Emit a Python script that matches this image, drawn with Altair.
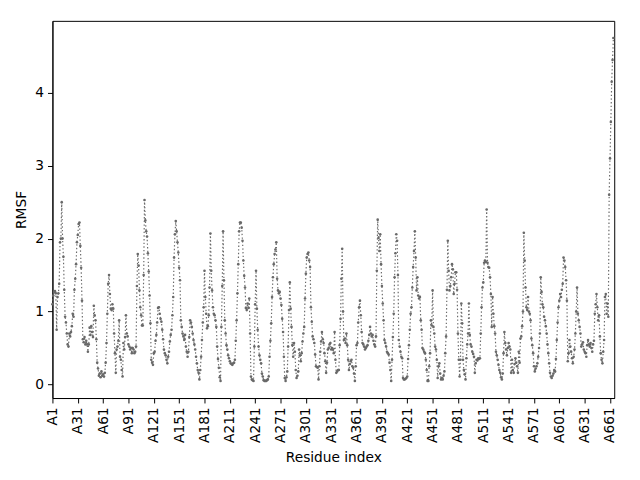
import altair as alt
import pandas as pd

# RMSF values per residue, split in segments
rmsf_a = [1.10, 1.22, 1.27, 1.28, 1.25, 0.75, 1.20, 1.25, 1.38, 1.95, 2.00, 2.50,
          2.00, 1.75, 1.30, 0.93,
          0.85, 0.70, 0.55, 0.52, 0.70, 0.66, 0.72, 0.80, 0.97, 0.93, 1.30, 1.45, 1.65, 1.95, 2.05, 2.20, 2.22,
          1.90, 1.60, 1.15, 0.62, 0.58, 0.65, 0.55, 0.60, 0.55, 0.45, 0.55, 0.78, 0.68, 0.80, 0.72, 0.65,
          1.08, 0.95, 0.88, 0.62, 0.30, 0.22, 0.12, 0.15, 0.10, 0.18, 0.12, 0.14, 0.11, 0.16,
          0.30, 0.57, 0.97, 1.38, 1.50, 1.24, 1.04, 1.02, 1.10, 1.04, 0.70, 0.43, 0.16, 0.48, 0.52, 0.60,
          0.88, 0.38, 0.34, 0.20, 0.11, 0.57, 0.48, 0.65, 0.95, 0.70, 0.66, 0.55, 0.52, 0.48, 0.50, 0.43,
          0.50, 0.48, 0.43, 0.45, 0.52, 1.35, 1.79, 1.63, 1.29, 1.06, 0.95, 0.81, 0.81, 1.50, 2.53]

rmsf_b = [2.25, 2.10, 2.03, 1.80, 1.55, 1.22, 0.84, 0.34, 0.30, 0.27, 0.43, 0.45, 0.60, 0.68, 0.85,
          1.05, 1.06, 0.97, 0.90, 0.86, 0.75, 0.62, 0.48, 0.43, 0.40, 0.34, 0.29, 0.38, 0.45, 0.59,
          0.68, 0.75, 0.95, 1.20, 1.74, 2.06, 2.24, 2.10, 1.95, 1.81, 1.60, 1.43, 0.88, 0.79, 0.70,
          0.66, 0.61, 0.68, 0.52, 0.45, 0.38, 0.45, 0.65, 0.88, 0.85, 0.79, 0.70, 0.61, 0.55, 0.48,
          0.38, 0.29, 0.20, 0.16, 0.07, 0.20, 0.38, 0.61, 0.85, 1.06, 1.56, 1.20, 0.97, 0.77, 0.80,
          0.95, 1.33, 2.07, 1.56, 1.29, 1.06, 0.97, 0.95, 0.88, 0.79, 0.52, 0.35, 0.23, 0.10, 0.05,
          0.79, 1.35, 2.10, 1.43, 0.88, 0.70, 0.54, 0.48, 0.40, 0.36, 0.32, 0.29, 0.28, 0.27, 0.29,
          0.30, 0.34, 0.60, 0.88, 1.25, 1.65, 2.10, 2.22]

rmsf_c = [2.22, 2.15, 1.97, 1.70, 1.49, 1.33, 1.05, 1.02, 1.11, 1.05, 1.18, 0.70, 0.11, 0.07, 0.06,
          0.05, 0.52, 1.10, 1.56, 1.04, 0.75, 0.52, 0.40, 0.34, 0.29, 0.15, 0.11, 0.06, 0.05, 0.05,
          0.05, 0.06, 0.07, 0.11, 0.38, 0.60, 0.84, 1.20, 1.47, 1.65, 1.79, 1.85, 1.95, 1.45, 1.29,
          1.25, 1.27, 1.18, 1.09, 0.90, 0.72, 0.38, 0.09, 0.05, 0.10, 0.18, 0.52, 1.02, 1.40, 1.04,
          0.79, 0.54, 0.38, 0.57, 0.45, 0.20, 0.09, 0.12, 0.18, 0.48, 0.40, 0.32, 0.43, 0.59, 0.70,
          0.79, 1.18, 1.52, 1.74, 1.79, 1.81, 1.70, 1.61, 1.06, 0.86, 0.66, 0.62, 0.57, 0.41, 0.25,
          0.24, 0.23, 0.07, 0.25, 0.45, 0.59, 0.72, 0.62, 0.57, 0.43, 0.32, 0.16, 0.30, 0.48, 0.50,
          0.55, 0.57, 0.48]

rmsf_d = [0.50, 0.48, 0.43, 0.72, 0.34, 0.16, 0.18, 0.20, 0.20, 0.54, 0.90, 1.45, 1.86, 1.00, 0.61,
          0.63, 0.57, 0.70, 0.54, 0.34, 0.20, 0.28, 0.32, 0.34, 0.25, 0.23, 0.15, 0.05, 0.25, 0.54,
          0.57, 0.85, 1.06, 1.15, 0.95, 0.72, 0.57, 0.55, 0.52, 0.48, 0.50, 0.52, 0.54, 0.60, 0.68,
          0.79, 0.70, 0.66, 0.68, 0.60, 0.55, 0.52, 0.66, 1.56, 2.26, 2.01, 1.83, 2.06, 1.65, 1.35,
          1.11, 0.88, 0.61, 0.57, 0.52, 0.45, 0.43, 0.41, 0.30, 0.20, 0.05, 0.34, 0.65, 0.97, 1.47,
          1.80, 2.06, 1.97, 1.50, 0.61, 0.52, 0.45, 0.38, 0.36, 0.09, 0.07, 0.07, 0.08, 0.09, 0.11,
          0.35, 0.54, 0.75, 0.97, 1.06, 1.33, 1.61, 1.83, 2.10, 1.74, 1.29, 1.47, 1.22, 1.18, 1.20,
          0.88, 0.75, 0.50, 0.48, 0.45, 0.43, 0.34, 0.20, 0.05]

rmsf_e = [0.05, 0.25, 0.43, 0.88, 0.81, 1.29, 0.79, 0.70, 0.52, 0.48, 0.34, 0.09, 0.25, 0.29, 0.15,
          0.07, 0.09, 0.07, 0.12, 0.18, 0.43, 0.66, 1.30, 1.97, 1.56, 1.29, 1.35, 1.47, 1.65, 1.58,
          1.24, 1.38, 1.54, 1.54, 1.30, 0.70, 0.34, 0.11, 0.34, 1.11, 0.84, 0.34, 0.20, 0.14, 0.07,
          0.36, 0.55, 0.70, 1.11, 0.68, 0.55, 0.52, 0.45, 0.42, 0.38, 0.16, 0.29, 0.34, 0.33, 0.36,
          0.35, 0.36, 0.70, 1.06, 1.33, 1.40, 1.67, 1.70, 1.68, 2.40, 1.67, 1.61, 1.60, 1.47, 1.24,
          0.79, 1.20, 0.97, 0.80, 0.70, 0.45, 0.40, 0.34, 0.27, 0.20, 0.16, 0.10, 0.07, 0.15, 0.43,
          0.72, 0.57, 0.48, 0.40, 0.50, 0.57, 0.52, 0.48, 0.16, 0.34, 0.20, 0.16, 0.28, 0.36, 0.30,
          0.25, 0.16, 0.45]

rmsf_f = [0.30, 0.63, 0.66, 0.80, 1.00, 2.08, 1.70, 1.33, 1.06, 1.02, 1.20, 1.00, 0.97, 0.88, 0.63,
          0.54, 0.43, 0.25, 0.18, 0.22, 0.25, 0.29, 0.38, 0.50, 0.70, 1.47, 1.27, 1.10, 1.06, 0.93,
          0.88, 0.80, 0.70, 0.55, 0.43, 0.29, 0.16, 0.11, 0.09, 0.12, 0.15, 0.20, 0.18, 0.35, 0.61,
          0.85, 1.06, 1.15, 1.24, 1.20, 1.30, 1.38, 1.74, 1.70, 1.61, 1.43, 1.15, 0.32, 0.43, 0.61,
          0.52, 0.45, 0.36, 0.29, 0.38, 0.48, 0.70, 1.00, 1.33, 0.97, 0.88, 0.79, 0.70, 0.52, 0.55,
          0.58, 0.48, 0.45, 0.43, 0.38, 0.54, 0.61, 0.55, 0.52, 0.57, 0.50, 0.45, 0.55, 0.60, 0.97,
          1.10, 1.24, 1.06, 0.88, 0.95, 0.66, 0.43, 0.34, 0.29, 0.45, 0.61, 1.20, 1.24, 0.97, 1.11,
          0.93, 2.60, 3.10, 3.60, 4.15, 4.45, 4.75]

tick_values = list(range(0, 661, 30))  # labelled A1, A31, ..., A661

rmsf = rmsf_a + rmsf_b + rmsf_c + rmsf_d + rmsf_e + rmsf_f
df = pd.DataFrame({"idx": list(range(len(rmsf))), "rmsf": rmsf})

color = "#696969"

base = alt.Chart(df).encode(
    x=alt.X(
        "idx:Q",
        scale=alt.Scale(domain=[0, 665], nice=False, zero=False),
        axis=alt.Axis(
            title="Residue index",
            values=tick_values,
            labelExpr="'A' + (datum.value + 1)",
            labelAngle=270,
            labelAlign="right",
            labelBaseline="middle",
            titlePadding=8,
        ),
    ),
    y=alt.Y(
        "rmsf:Q",
        scale=alt.Scale(domain=[-0.185, 4.985], nice=False, zero=False),
        axis=alt.Axis(title="RMSF", values=[0, 1, 2, 3, 4], titlePadding=6),
    ),
)

line = base.mark_line(color=color, strokeWidth=1.2, strokeDash=[1.4, 2.3])
pts = base.mark_circle(color=color, size=7, opacity=1)

chart = (
    (line + pts)
    .properties(
        width=569,
        height=382,
        autosize=alt.AutoSizeParams(type="none"),
        padding={"left": 45, "top": 10, "right": 18, "bottom": 80},
    )
    .configure_view(stroke="black", strokeWidth=1)
    .configure_axis(
        grid=False,
        domainColor="black",
        domainWidth=1,
        tickColor="black",
        tickSize=5,
        labelPadding=4,
        labelFont="DejaVu Sans",
        labelFontSize=13.9,
        labelColor="black",
        titleFont="DejaVu Sans",
        titleFontSize=13.9,
        titleFontWeight="normal",
        titleColor="black",
    )
)

chart.save("out.html", embed_options={"renderer": "svg", "actions": False})
